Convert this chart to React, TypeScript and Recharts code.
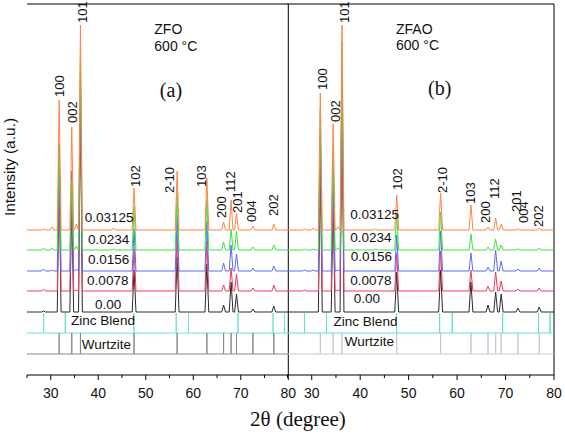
import React from "react";
import { LineChart, Line, XAxis, YAxis, ReferenceLine, ReferenceDot } from "recharts";

// wurtzite ZnO reflections, shared by both panels
const PEAK_POS = [31.77, 34.42, 36.25, 47.54, 56.6, 62.86, 66.38, 67.96, 69.1, 72.56, 76.95];
const HKL = ["100", "002", "101", "102", "2-10", "103", "200", "112", "201", "004", "202"];
// small impurity bumps
const EXTRA_POS = [28.5, 30.3, 35.4, 43.2];

const SAMPLES = ["0.00", "0.0078", "0.0156", "0.0234", "0.03125"];
const SAMPLE_COLORS = ["#2a2a2a", "#f23a5c", "#5b6cf2", "#3ee23e", "#ff8446"];
const BASELINES = [63, 84, 104, 125, 145];

// peak heights above each sample's own baseline (a.u.)
const ZFO_HEIGHTS = [
  [140, 110, 215, 42, 55, 48, 7, 30, 18, 3, 6],
  [130, 100, 206, 42, 55, 50, 6, 23, 17, 3, 6],
  [125, 100, 200, 42, 56, 50, 8, 26, 17, 3, 5],
  [106, 71, 191, 43, 57, 51, 8, 21, 19, 3, 5],
  [130, 103, 205, 42, 59, 52, 8, 30, 17, 4, 6],
];
const ZFO_EXTRA = [
  [1, 0, 0, 0],
  [2, 0, 1, 0],
  [2, 1, 2, 0],
  [2, 2, 4, 1],
  [1, 3, 6, 2],
];
const ZFAO_HEIGHTS = [
  [145, 110, 215, 40, 42, 30, 7, 20, 18, 4, 5],
  [144, 98, 204, 38, 40, 21, 5, 19, 10, 2, 3],
  [138, 104, 204, 36, 40, 18, 4, 21, 10, 2, 3],
  [141, 100, 208, 36, 38, 16, 3, 11, 5, 1, 2],
  [137, 106, 205, 35, 37, 25, 3, 12, 6, 1, 2],
];
const ZFAO_EXTRA = [
  [0, 0, 0, 0],
  [1, 0, 1, 0],
  [1, 1, 1, 0],
  [1, 1, 2, 1],
  [1, 2, 3, 1],
];

// reference stick patterns
const ZB_POS = [28.5, 33.05, 47.5, 56.4, 59.0, 69.4, 76.8, 79.2];
const ZB_BAND = [42, 62];
const WZ_POS = PEAK_POS;
const WZ_BAND = [21, 42];

// annotation positions (data units)
const ZFO_HKL_X = [31.8, 34.5, 36.6, 47.75, 54.9, 61.8, 66.0, 67.8, 69.3, 72.3, 76.8];
const ZFO_HKL_Y = [278, 252, 352, 188, 182, 188, 157, 183, 162, 153, 159];
const ZFAO_HKL_X = [32.2, 34.96, 36.7, 47.7, 57.0, 62.75, 65.8, 67.7, 72.2, 73.7, 76.8];
const ZFAO_HKL_Y = [285, 253, 352, 185, 182, 171, 152, 176, 163, 152, 148];

const ZFO_LABEL_X = [42.1, 42.0, 42.2, 42.2, 42.3];
const ZFO_LABEL_Y = [70.7, 95, 116, 135.7, 158];
const ZFAO_LABEL_X = [41.4, 42.2, 42.3, 42.2, 43.0];
const ZFAO_LABEL_Y = [76.7, 95, 118.3, 137.3, 161];

const X_TICKS = [25, 30, 35, 40, 45, 50, 55, 60, 65, 70, 75, 80];
const SANS = "'Liberation Sans', Arial, sans-serif";
const SERIF = "'Liberation Serif', 'Times New Roman', serif";

type Pt = { x: number; y: number };

function buildPattern(base: number, heights: number[], extras: number[]): Pt[] {
  const peaks = PEAK_POS.map((p, i) => ({ p, h: heights[i] }))
    .concat(EXTRA_POS.map((p, i) => ({ p, h: extras[i] })))
    .filter((d) => d.h > 0)
    .sort((a, b) => a.p - b.p);
  const pts: Pt[] = [{ x: 25, y: base }];
  peaks.forEach(({ p, h }) => {
    pts.push({ x: p - 0.4, y: base }, { x: p, y: base + h }, { x: p + 0.4, y: base });
  });
  pts.push({ x: 80, y: base });
  return pts;
}

function buildSticks(pos: number[], band: number[]): Pt[] {
  const [b, t] = band;
  const pts: Pt[] = [{ x: 25, y: b }];
  pos.forEach((p) => pts.push({ x: p, y: b }, { x: p, y: t }, { x: p, y: b }));
  pts.push({ x: 80, y: b });
  return pts;
}

const AxisTick = (props: any) => {
  const { x, y, payload } = props;
  const major = payload.value % 10 === 0;
  return (
    <g>
      <line x1={x} x2={x} y1={y} y2={y + (major ? 5 : 3)} stroke="#000" />
      {major && (
        <text x={x} y={y + 23} textAnchor="middle" fontSize={14} fill="#111" fontFamily={SANS}>
          {payload.value}
        </text>
      )}
    </g>
  );
};

const textShape = (txt: string, opts: any) => (p: any) => (
  <text
    x={p.cx}
    y={p.cy}
    dy={opts.dy ?? "0.35em"}
    textAnchor={opts.anchor ?? "middle"}
    fontSize={opts.size ?? 13.5}
    fontFamily={opts.family ?? SANS}
    fill="#111"
    transform={opts.rotate ? `rotate(-90 ${p.cx} ${p.cy})` : undefined}
  >
    {txt}
  </text>
);

type PanelProps = {
  left: number;
  width: number;
  margin: { top: number; right: number; bottom: number; left: number };
  heights: number[][];
  extras: number[][];
  hklX: number[];
  hklY: number[];
  labelX: number[];
  labelY: number[];
  zbLabel: number[];
  wzLabel: number[];
  title: string;
  titlePos: number[];
  tag: string;
  tagPos: number[];
  zbColor: string;
  wzColor: string;
};

function Panel(pr: PanelProps) {
  const zb = buildSticks(ZB_POS, ZB_BAND);
  const wz = buildSticks(WZ_POS, WZ_BAND);
  return (
    <div style={{ position: "absolute", left: pr.left, top: 0 }}>
      <LineChart width={pr.width} height={436} margin={pr.margin}>
        <XAxis
          dataKey="x"
          type="number"
          domain={[25, 80]}
          ticks={X_TICKS}
          interval={0}
          allowDataOverflow
          height={30}
          tickSize={0}
          tickMargin={0}
          tickLine={false}
          tick={AxisTick}
          axisLine={{ stroke: "#000" }}
        />
        <YAxis type="number" domain={[0, 371]} width={0} tick={false} tickLine={false} axisLine={{ stroke: "#000" }} allowDataOverflow />
        <ReferenceLine x={80} stroke="#000" />
        <ReferenceLine y={371} stroke="#000" />
        <Line data={zb} dataKey="y" stroke={pr.zbColor} strokeWidth={1} dot={false} activeDot={false} isAnimationActive={false} type="linear" />
        <Line data={wz} dataKey="y" stroke={pr.wzColor} strokeWidth={1} dot={false} activeDot={false} isAnimationActive={false} type="linear" />
        {SAMPLES.map((s, i) => (
          <Line
            key={s}
            data={buildPattern(BASELINES[i], pr.heights[i], pr.extras[i])}
            dataKey="y"
            stroke={SAMPLE_COLORS[i]}
            strokeWidth={1}
            dot={false}
            activeDot={false}
            isAnimationActive={false}
            type="linear"
          />
        ))}
        {HKL.map((h, i) => (
          <ReferenceDot key={h} x={pr.hklX[i]} y={pr.hklY[i]} r={0} shape={textShape(h, { rotate: true, anchor: "start", size: 13 })} />
        ))}
        {SAMPLES.map((s, i) => (
          <ReferenceDot key={"l" + s} x={pr.labelX[i]} y={pr.labelY[i]} r={0} shape={textShape(s, {})} />
        ))}
        <ReferenceDot x={pr.zbLabel[0]} y={pr.zbLabel[1]} r={0} shape={textShape("Zinc Blend", {})} />
        <ReferenceDot x={pr.wzLabel[0]} y={pr.wzLabel[1]} r={0} shape={textShape("Wurtzite", {})} />
        <ReferenceDot x={pr.titlePos[0]} y={pr.titlePos[1]} r={0} shape={textShape(pr.title, { anchor: "start", size: 14 })} />
        <ReferenceDot x={pr.titlePos[0]} y={pr.titlePos[2]} r={0} shape={textShape("600 °C", { anchor: "start", size: 14 })} />
        <ReferenceDot x={pr.tagPos[0]} y={pr.tagPos[1]} r={0} shape={textShape(pr.tag, { size: 20, family: SERIF })} />
      </LineChart>
    </div>
  );
}

export default function App() {
  return (
    <div style={{ position: "fixed", left: 0, top: 0, width: 565, height: 436, background: "#fff", overflow: "hidden" }}>
      <Panel
        left={0}
        width={300}
        margin={{ top: 4, right: 11.7, bottom: 31, left: 27 }}
        heights={ZFO_HEIGHTS}
        extras={ZFO_EXTRA}
        hklX={ZFO_HKL_X}
        hklY={ZFO_HKL_Y}
        labelX={ZFO_LABEL_X}
        labelY={ZFO_LABEL_Y}
        zbLabel={[41.0, 54.3]}
        wzLabel={[41.7, 30.7]}
        title="ZFO"
        titlePos={[51.8, 346, 328.5]}
        tag="(a)"
        tagPos={[55.3, 285]}
        zbColor="#70e2d6"
        wzColor="#8a8a8a"
      />
      <Panel
        left={280}
        width={285}
        margin={{ top: 4, right: 11, bottom: 31, left: 7.5 }}
        heights={ZFAO_HEIGHTS}
        extras={ZFAO_EXTRA}
        hklX={ZFAO_HKL_X}
        hklY={ZFAO_HKL_Y}
        labelX={ZFAO_LABEL_X}
        labelY={ZFAO_LABEL_Y}
        zbLabel={[41.1, 54]}
        wzLabel={[41.9, 33.3]}
        title="ZFAO"
        titlePos={[47.4, 346, 330]}
        tag="(b)"
        tagPos={[56.4, 287.5]}
        zbColor="#62e0d0"
        wzColor="#c9c5dc"
      />
      <svg width={565} height={436} style={{ position: "absolute", left: 0, top: 0, pointerEvents: "none" }}>
        <text transform="translate(14.5,167) rotate(-90)" textAnchor="middle" fontSize={15.5} fontFamily={SANS} fill="#111">
          Intensity (a.u.)
        </text>
        <text x={298} y={426} textAnchor="middle" fontSize={21} fontFamily={SERIF} fill="#111">
          2θ (degree)
        </text>
      </svg>
    </div>
  );
}
